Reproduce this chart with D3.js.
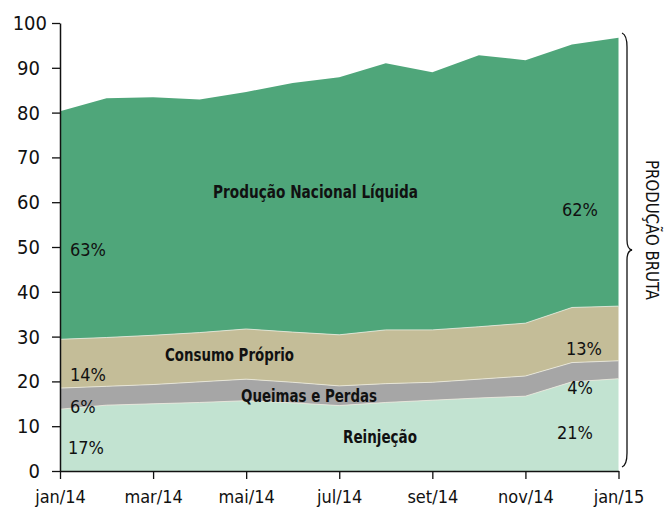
<!DOCTYPE html>
<html>
<head>
<meta charset="utf-8">
<script src="https://cdn.jsdelivr.net/npm/d3@7"></script>
<style>
  body { margin: 0; background: #fff; }
  text { font-family: 'DejaVu Sans Condensed', 'Liberation Sans Narrow', sans-serif; fill: #111; }
</style>
</head>
<body>
<svg id="chart" width="667" height="511"></svg>
<script>
'use strict';

// months jan/14 .. jan/15
var months = ['jan/14', 'fev/14', 'mar/14', 'abr/14', 'mai/14', 'jun/14', 'jul/14',
    'ago/14', 'set/14', 'out/14', 'nov/14', 'dez/14', 'jan/15'];
var tickMonths = ['jan/14', 'mar/14', 'mai/14', 'jul/14', 'set/14', 'nov/14', 'jan/15'];

// series values (million m3/day), bottom to top
var reinjecao = [13.8, 14.7, 15.0, 15.3, 15.7, 15.2, 14.6, 15.3, 15.8, 16.3, 16.7, 19.9, 20.6];
var queimas = [4.7, 4.2, 4.3, 4.6, 4.8, 4.6, 4.4, 4.2, 4.0, 4.2, 4.5, 4.3, 4.0];
var consumo = [10.9, 10.9, 11.0, 11.0, 11.2, 11.2, 11.4, 12.0, 11.7, 11.7, 11.8, 12.3, 12.2];
var liquida = [50.9, 53.4, 53.1, 52.0, 52.9, 55.6, 57.5, 59.5, 57.5, 60.6, 58.7, 58.7, 59.9];

var seriesKeys = ['reinjecao', 'queimas', 'consumo', 'liquida'];
var seriesNames = ['Reinjeção', 'Queimas e Perdas', 'Consumo Próprio', 'Produção Nacional Líquida'];
var colors = ['#c2e3d1', '#a6a6a6', '#c4bd98', '#4fa67a'];
var yTicks = [0, 10, 20, 30, 40, 50, 60, 70, 80, 90, 100];

var table = months.map(function(m, i) {
    return { month: m, reinjecao: reinjecao[i], queimas: queimas[i], consumo: consumo[i], liquida: liquida[i] };
});

var svg = d3.select('#chart');
var x = d3.scalePoint().domain(months).range([60, 618.5]);
var y = d3.scaleLinear().domain([0, 100]).range([471, 23]);

var stacked = d3.stack().keys(seriesKeys)(table);

var area = d3.area()
    .x(function(d) { return x(d.data.month); })
    .y0(function(d) { return y(d[0]); })
    .y1(function(d) { return y(d[1]); });

svg.selectAll('.layer')
    .data(stacked)
    .enter().append('path')
    .attr('class', 'layer')
    .attr('d', area)
    .attr('fill', function(d, i) { return colors[i]; });

// thin light separators between layers
var topLine = d3.line()
    .x(function(d) { return x(d.data.month); })
    .y(function(d) { return y(d[1]); });
svg.selectAll('.sep')
    .data(stacked.slice(0, 3))
    .enter().append('path')
    .attr('d', topLine)
    .attr('fill', 'none')
    .attr('stroke', '#eeecdf')
    .attr('stroke-width', 0.8);

// axes
var yAxis = svg.append('g')
    .attr('transform', 'translate(60,0)')
    .call(d3.axisLeft(y).tickValues(yTicks).tickSize(8).tickSizeOuter(0).tickPadding(12));
var xAxis = svg.append('g')
    .attr('transform', 'translate(0,471)')
    .call(d3.axisBottom(x).tickValues(tickMonths).tickSize(8).tickSizeOuter(0).tickPadding(11));
[yAxis, xAxis].forEach(function(g) {
    g.select('.domain').attr('stroke', '#111').attr('stroke-width', 1.5);
    g.selectAll('.tick line').attr('stroke', '#111').attr('stroke-width', 1.3);
    g.selectAll('.tick text')
        .style('font-family', "'DejaVu Sans Condensed', sans-serif")
        .style('font-size', '18px')
        .attr('fill', '#111');
});
yAxis.selectAll('.tick text').style('font-size', '20px');
// the top label sits a little to the right, as in the original
yAxis.selectAll('.tick text').filter(function(d) { return d === 100; }).attr('dx', 7);

// series names inside areas
var nameLabels = [
    { text: seriesNames[3], x: 213, y: 198, w: 205 },
    { text: seriesNames[2], x: 165, y: 361, w: 129 },
    { text: seriesNames[1], x: 241, y: 402, w: 136 },
    { text: seriesNames[0], x: 343, y: 443, w: 74 }
];
svg.selectAll('.name')
    .data(nameLabels)
    .enter().append('text')
    .attr('x', function(d) { return d.x; })
    .attr('y', function(d) { return d.y; })
    .attr('textLength', function(d) { return d.w; })
    .attr('lengthAdjust', 'spacingAndGlyphs')
    .style('font-size', '18px')
    .style('font-weight', 'bold')
    .text(function(d) { return d.text; });

// share labels, first and last month
function share(arr, i) {
    var total = reinjecao[i] + queimas[i] + consumo[i] + liquida[i];
    return Math.round(arr[i] / total * 100) + '%';
}
var last = months.length - 1;
var pctLabels = [
    { text: share(liquida, 0), x: 70, y: 256, anchor: 'start' },
    { text: share(consumo, 0), x: 70, y: 381, anchor: 'start' },
    { text: share(queimas, 0), x: 70, y: 413, anchor: 'start' },
    { text: share(reinjecao, 0), x: 68, y: 454, anchor: 'start' },
    { text: share(liquida, last), x: 598, y: 216, anchor: 'end' },
    { text: share(consumo, last), x: 602, y: 355, anchor: 'end' },
    { text: share(queimas, last), x: 593, y: 394, anchor: 'end' },
    { text: share(reinjecao, last), x: 593, y: 439, anchor: 'end' }
];
svg.selectAll('.pct')
    .data(pctLabels)
    .enter().append('text')
    .attr('x', function(d) { return d.x; })
    .attr('y', function(d) { return d.y; })
    .attr('text-anchor', function(d) { return d.anchor; })
    .style('font-size', '18px')
    .text(function(d) { return d.text; });

// brace for "PRODUÇÃO BRUTA"
var bx = 627, bTop = 33, bBot = 467, bMid = 250;
svg.append('path')
    .attr('d', 'M' + (bx - 5) + ',' + bTop +
        ' Q' + bx + ',' + (bTop + 2) + ' ' + bx + ',' + (bTop + 14) +
        ' L' + bx + ',' + (bMid - 10) +
        ' Q' + bx + ',' + (bMid - 1) + ' ' + (bx + 5) + ',' + bMid +
        ' Q' + bx + ',' + (bMid + 1) + ' ' + bx + ',' + (bMid + 10) +
        ' L' + bx + ',' + (bBot - 14) +
        ' Q' + bx + ',' + (bBot - 2) + ' ' + (bx - 5) + ',' + bBot)
    .attr('fill', 'none')
    .attr('stroke', '#111')
    .attr('stroke-width', 1.3);

svg.append('text')
    .attr('transform', 'translate(646,230) rotate(90)')
    .attr('text-anchor', 'middle')
    .attr('textLength', 140)
    .attr('lengthAdjust', 'spacingAndGlyphs')
    .style('font-size', '17px')
    .text('PRODUÇÃO BRUTA');
</script>
</body>
</html>
